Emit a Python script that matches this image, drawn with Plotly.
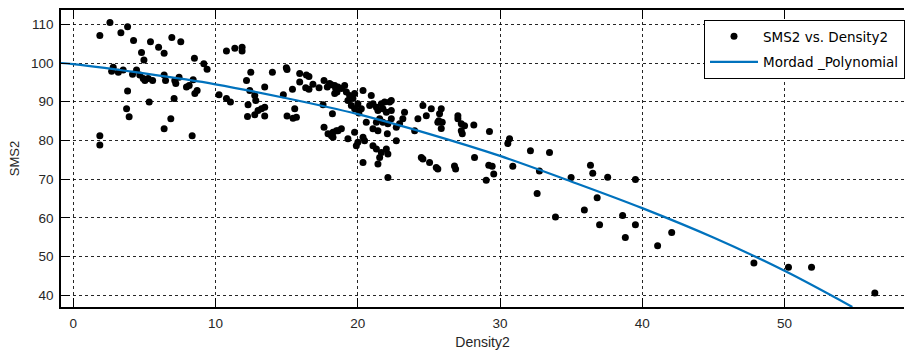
import plotly.graph_objects as go

# Scatter data: SMS2 vs. Density2
density2 = [
    1.87, 2.58, 1.87, 1.87, 3.35, 3.82, 4.24, 4.80, 4.97, 5.43, 6.00, 6.39, 6.93, 7.56, 8.52, 9.18, 9.41,
    2.70, 3.17, 3.51, 2.81, 3.82, 3.75, 3.93, 4.17, 4.45, 4.68, 4.92, 5.04, 5.27, 5.58, 5.34, 6.39, 6.49,
    7.09, 6.86, 6.39, 7.14, 7.21, 7.44, 7.96, 8.15, 8.43, 8.55, 8.71, 8.36, 10.25, 10.77, 11.36, 11.87,
    11.87, 10.77, 11.05, 12.18, 12.41, 12.48, 12.29, 12.25, 12.76, 12.83, 12.76, 12.99, 13.23, 13.46,
    13.46, 13.46, 14.00, 14.77, 14.98, 15.03, 15.41, 15.57, 15.03, 15.45, 15.69, 15.92, 15.92,
    16.39, 16.57, 16.85, 16.34, 16.57, 17.28, 17.63, 17.86, 18.15, 18.45, 18.54, 17.56, 18.22, 17.63,
    17.91, 18.26, 18.50,
    18.02, 18.38, 18.61, 18.38, 18.85, 19.08, 19.20, 19.43, 19.31, 19.66, 19.78, 19.55, 19.78, 20.01,
    20.25, 20.08, 20.37, 20.95, 20.84, 21.07, 21.31, 21.66, 21.89, 22.24, 22.36, 21.42, 21.77, 22.01,
    20.60, 21.31, 21.54, 21.77, 21.07, 21.42, 22.12, 22.36, 22.71, 22.94, 23.17, 23.29, 22.36, 24.00,
    24.23, 24.58, 24.82, 25.17, 25.63, 18.26, 18.61, 18.85, 18.15, 19.31, 19.78, 19.90, 20.01, 20.37,
    20.48, 21.07, 21.31, 21.66, 21.54, 22.01, 22.12, 20.37, 21.42, 22.12, 24.47, 24.58, 25.05, 25.52,
    22.71, 22.08,
    25.87, 25.75, 25.70, 25.94, 25.87, 27.04, 27.04, 27.28, 27.51, 27.28, 27.35, 28.16, 29.26, 30.67,
    30.55, 32.14, 25.63, 26.80, 26.88, 28.21, 29.21, 29.45, 29.56, 29.03, 30.90, 32.61,
    33.48, 32.77, 35.00, 36.36, 36.52, 37.57, 39.52, 33.90, 35.93, 36.83, 37.00, 38.62, 39.52, 38.81,
    41.08, 42.07, 47.85, 50.28, 51.90, 56.35,
]
sms2 = [
    107.1, 110.5, 81.2, 78.8, 107.8, 109.4, 105.8, 102.7, 100.8, 105.5, 104.1, 102.5, 106.6, 105.5, 101.2, 99.8, 98.4,
    97.9, 97.6, 98.2, 98.9, 92.8, 88.2, 86.1, 97.1, 98.2, 96.9, 96.0, 95.5, 96.0, 95.5, 89.9, 96.9, 95.5,
    90.8, 85.6, 83.0, 95.5, 94.7, 96.3, 93.8, 94.2, 95.7, 92.1, 92.9, 81.2, 91.8, 103.1, 103.8, 104.1,
    103.1, 90.8, 89.9, 95.5, 92.9, 97.6, 89.2, 86.2, 91.6, 90.3, 86.6, 87.7, 88.2, 88.6,
    86.3, 93.8, 97.6, 91.8, 98.8, 98.3, 93.2, 88.2, 86.3, 85.7, 86.0, 97.3, 95.1,
    96.9, 96.5, 94.5, 93.6, 93.2, 93.6, 95.5, 93.8, 94.4, 93.4, 92.5, 89.2, 86.9, 83.4,
    81.7, 80.8, 82.5,
    94.7, 94.2, 93.8, 92.1, 93.4, 94.2, 92.5, 91.6, 90.3, 90.8, 92.1, 89.0, 88.2, 89.5,
    88.2, 87.1, 92.9, 91.6, 89.0, 89.5, 88.6, 89.5, 89.9, 89.9, 90.3, 87.7, 88.2, 87.3,
    84.7, 84.7, 85.6, 84.7, 83.0, 82.5, 84.3, 85.6, 83.4, 84.3, 85.6, 87.3, 87.7, 82.5,
    85.6, 89.0, 86.4, 88.2, 84.7, 82.1, 82.5, 83.0, 81.2, 80.4, 82.1, 78.6, 79.5, 80.8,
    79.9, 78.6, 77.8, 76.9, 75.6, 77.8, 76.5, 74.3, 73.9, 70.4, 75.6, 75.2, 74.3, 73.0,
    79.9, 81.7,
    88.2, 86.9, 85.1, 84.7, 83.1, 86.4, 85.6, 84.3, 83.8, 82.5, 81.7, 84.0, 82.3, 80.4,
    79.2, 77.3, 72.6, 73.4, 72.6, 75.6, 73.6, 73.3, 71.3, 69.7, 73.3, 66.3,
    76.9, 72.1, 70.4, 73.6, 71.5, 70.5, 69.9, 60.2, 62.0, 65.2, 58.2, 60.6, 58.2, 54.9,
    52.8, 56.2, 48.3, 47.2, 47.2, 40.6,
]

# Polynomial fit curve
fit_x = [-0.86, 0, 5, 10, 15, 20, 25, 30, 35, 40, 45, 50, 54.77]
fit_y = [100.0, 99.7, 97.3, 94.5, 90.9, 86.8, 81.7, 76.0, 69.4, 62.5, 54.9, 46.3, 36.95]

x_ticks = [0, 10, 20, 30, 40, 50]
y_ticks = [40, 50, 60, 70, 80, 90, 100, 110]

fig = go.Figure()
fig.add_trace(go.Scatter(
    x=density2, y=sms2, mode="markers", name="SMS2 vs. Density2",
    marker=dict(color="black", size=7), legendgroup="a",
))
fig.add_trace(go.Scatter(
    x=fit_x, y=fit_y, mode="lines", name="Mordad _Polynomial",
    line=dict(color="#0072BD", width=2.2, shape="spline"), legendgroup="b",
))

tick_font = dict(family="Liberation Sans", size=13.5, color="#262626")
axis_common = dict(
    showline=True, linecolor="black", linewidth=1.5,
    ticks="inside", tickcolor="black", tickwidth=1.2, ticklen=9,
    showgrid=True, gridcolor="rgba(0,0,0,0.85)", gridwidth=1, griddash="dot",
    zeroline=False, tickfont=tick_font, automargin=False,
)

fig.update_layout(
    width=905, height=354,
    margin=dict(l=61, r=0, t=10, b=47),
    paper_bgcolor="white", plot_bgcolor="white",
    showlegend=True,
    legend=dict(
        x=(705 - 61) / 844, y=(297 - 10) / 297, xanchor="left", yanchor="top",
        bgcolor="white", bordercolor="black", borderwidth=1,
        font=dict(family="DejaVu Sans", size=13.5, color="black"),
        itemwidth=48, tracegroupgap=5, traceorder="grouped",
    ),
    xaxis=dict(
        range=[-0.86, 58.4], tickvals=x_ticks, mirror="ticks",
        title=dict(text="Density2", font=dict(family="Liberation Sans", size=14, color="#262626"), standoff=7),
        ticklabelstandoff=3,
        **axis_common,
    ),
    yaxis=dict(
        range=[36.95, 113.7], tickvals=y_ticks,
        title=dict(text="SMS2", font=dict(family="Liberation Sans", size=13, color="#262626"), standoff=8),
        ticklabelstandoff=3,
        **axis_common,
    ),
)

fig.write_html(
    "out.html",
    config={"displayModeBar": False},
    post_script="document.body.style.margin='0';document.body.style.overflow='hidden';",
)
